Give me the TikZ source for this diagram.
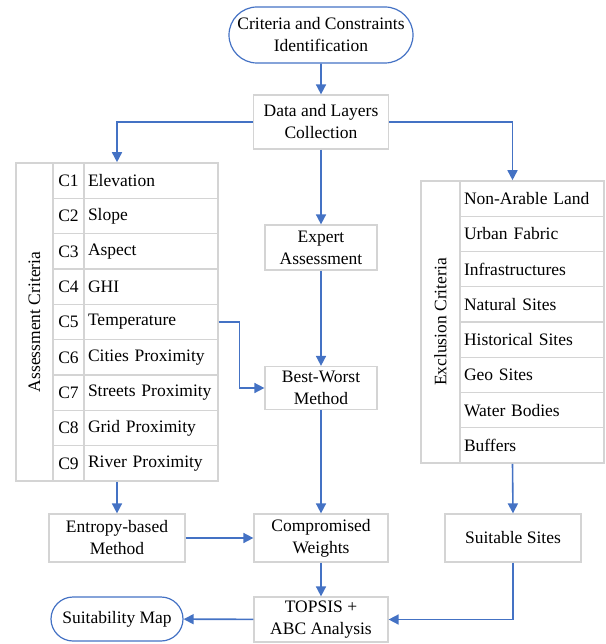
\documentclass[tikz,border=0pt]{standalone}
\usepackage{fontspec}
\setmainfont{Liberation Serif}
\usepackage{tikz}
\usetikzlibrary{arrows.meta, positioning, shapes.misc, fit}
\definecolor{flowblue}{RGB}{68,114,196}
\definecolor{boxgray}{RGB}{212,212,212}

\begin{document}
\begin{tikzpicture}[x=1pt, y=-1pt,
        every node/.style={font=\fontsize{17.5}{22}\selectfont},
        box/.style={draw=boxgray, line width=1.2pt, align=center, inner sep=2pt},
        term/.style={rounded rectangle, draw=flowblue, line width=1.2pt, align=center, inner sep=2pt},
        cell/.style={draw=boxgray, line width=1.2pt, inner sep=0pt},
        txtcell/.style={cell, align=left, inner xsep=4pt},
        arr/.style={draw=flowblue, line width=1.6pt, -{Triangle[length=10pt,width=10pt]}}]
        \useasboundingbox (0,0) rectangle (605,644);

        % main column
        \node[term, minimum width=188, minimum height=56] (ident) at (321,35) {Criteria and Constraints\\Identification};
        \node[box, minimum width=135, minimum height=54] (data) at (321,122) {Data and Layers\\Collection};
        \node[box, minimum width=112, minimum height=45] (expert) at (321,247.5) {Expert\\Assessment};
        \node[box, minimum width=112, minimum height=43] (bw) at (321,388) {Best-Worst\\Method};
        \node[box, minimum width=136, minimum height=48] (entropy) at (117,538) {Entropy-based\\Method};
        \node[box, minimum width=134, minimum height=48] (comp) at (321,538) {Compromised\\Weights};
        \node[box, minimum width=136, minimum height=48] (suit) at (513,538) {Suitable Sites};
        \node[box, minimum width=134, minimum height=45] (topsis) at (321,619.5) {TOPSIS +\\ABC Analysis};
        \node[term, minimum width=136, minimum height=44] (map) at (117,619) {Suitability Map};

        % assessment criteria table
        \node[cell, rotate=90, minimum width=318, minimum height=37] (alabel) at (34.5,322) {Assessment Criteria};
        \foreach \t [count=\i] in {Elevation, Slope, Aspect, GHI, Temperature, Cities Proximity, Streets Proximity, Grid Proximity, River Proximity} {
            \node[cell, minimum width=31, minimum height=35.33] (cn\i) at (68.5,{163+35.33*(\i-0.5)}) {C\i};
            \node[txtcell, text width=126, minimum height=35.33] (an\i) at (151,{163+35.33*(\i-0.5)}) {\t};
        }
        \node[fit=(alabel)(an1)(an9), inner sep=0pt] (atab) {};

        % exclusion criteria table
        \node[cell, rotate=90, minimum width=282, minimum height=39] (elabel) at (440.5,322) {Exclusion Criteria};
        \foreach \t [count=\i] in {Non-Arable Land, Urban Fabric, Infrastructures, Natural Sites, Historical Sites, Geo Sites, Water Bodies, Buffers} {
            \node[txtcell, text width=136, minimum height=35.25] (en\i) at (532,{181+35.25*(\i-0.5)}) {\t};
        }
        \node[fit=(elabel)(en1)(en8), inner sep=0pt] (etab) {};

        % connectors
        \draw[arr] (ident) -- (data);
        \draw[arr] (data.west) -| (atab.north);
        \draw[arr] (data.east) -| (etab.north);
        \draw[arr] (data) -- (expert);
        \draw[arr] (expert) -- (bw);
        \draw[arr] (an5.east) -- ++(21,0) |- (bw.west);
        \draw[arr] (atab.south) -- (entropy.north);
        \draw[arr] (etab.south) -- (suit.north);
        \draw[arr] (bw) -- (comp);
        \draw[arr] (entropy) -- (comp);
        \draw[arr] (comp) -- (topsis);
        \draw[arr] (suit.south) |- (topsis.east);
        \draw[arr] (topsis) -- (map);
    \end{tikzpicture}
\end{document}
